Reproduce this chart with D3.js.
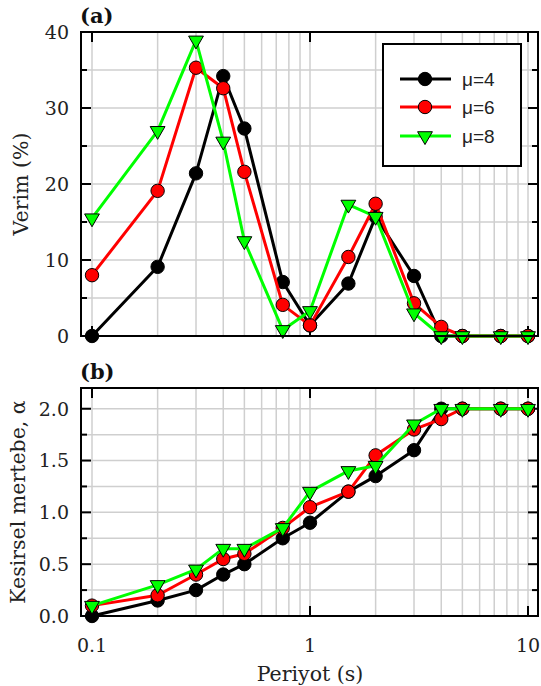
<!DOCTYPE html>
<html><head><meta charset="utf-8">
<script src="https://cdn.jsdelivr.net/npm/d3@7/dist/d3.min.js"></script>
<style>body{margin:0;background:#fff}svg{display:block}</style>
</head><body>
<svg id="c" width="541" height="686"></svg>
<script>
const periods = [0.1, 0.2, 0.3, 0.4, 0.5, 0.75, 1, 1.5, 2, 3, 4, 5, 7.5, 10];
const seriesNames = ["μ=4", "μ=6", "μ=8"];
const verimMu4 = [0, 9.1, 21.4, 34.2, 27.3, 7.1, 1.4, 6.9, 15.7, 7.9, 0, 0, 0, 0];
const verimMu6 = [8.0, 19.1, 35.3, 32.6, 21.6, 4.1, 1.4, 10.4, 17.4, 4.3, 1.2, 0, 0, 0];
const verimMu8 = [15.5, 27.0, 38.9, 25.6, 12.5, 0.8, 3.3, 17.3, 15.7, 3.0, 0, 0, 0, 0];
const alphaMu4 = [0, 0.15, 0.25, 0.4, 0.5, 0.75, 0.9, 1.2, 1.35, 1.6, 2.0, 2.0, 2.0, 2.0];
const alphaMu6 = [0.1, 0.2, 0.4, 0.55, 0.6, 0.85, 1.05, 1.2, 1.55, 1.8, 1.9, 2.0, 2.0, 2.0];
const alphaMu8 = [0.1, 0.3, 0.45, 0.65, 0.65, 0.85, 1.2, 1.4, 1.45, 1.85, 2.0, 2.0, 2.0, 2.0];
const xTickLabels = ["0.1", "1", "10"];
const yTicksA = [0, 10, 20, 30, 40];
const yTicksB = ["0.0", "0.5", "1.0", "1.5", "2.0"];

const colors = ["#000000", "#ff0000", "#00ff00"];
const markers = ["circle", "circle", "tri"];
const serif = "'DejaVu Serif', serif";

const svg = d3.select("#c");
const x = d3.scaleLog().domain([0.1, 10]).range([92, 528]);
const fx0 = 81, fx1 = 538;
const xGrid = d3.range(1, 11).map(d => d / 10).concat(d3.range(2, 11));

function panel(opts) {
  const { y, yMinor, yMajor, yLabels, data, label, title, titleX, frameTop, frameBot } = opts;
  const g = svg.append("g");
  g.selectAll(".vg").data(xGrid).join("line")
    .attr("x1", d => x(d)).attr("x2", d => x(d)).attr("y1", frameTop).attr("y2", frameBot)
    .attr("stroke", "#cfcfcf").attr("stroke-width", 1.5);
  g.selectAll(".hg").data(yMinor).join("line")
    .attr("x1", fx0).attr("x2", fx1).attr("y1", d => y(d)).attr("y2", d => y(d))
    .attr("stroke", "#cfcfcf").attr("stroke-width", 1.5);
  yMinor.forEach(v => {
    const major = yMajor.some(m => Math.abs(m - v) < 1e-9);
    const L = major ? 10 : 6;
    g.append("line").attr("x1", fx0).attr("x2", fx0 + L).attr("y1", y(v)).attr("y2", y(v)).attr("stroke", "#000").attr("stroke-width", 2);
    g.append("line").attr("x1", fx1).attr("x2", fx1 - L).attr("y1", y(v)).attr("y2", y(v)).attr("stroke", "#000").attr("stroke-width", 2);
  });
  [0.1, 1, 10].forEach(v => {
    g.append("line").attr("x1", x(v)).attr("x2", x(v)).attr("y1", frameTop).attr("y2", frameTop + 10).attr("stroke", "#000").attr("stroke-width", 2);
    g.append("line").attr("x1", x(v)).attr("x2", x(v)).attr("y1", frameBot).attr("y2", frameBot - 10).attr("stroke", "#000").attr("stroke-width", 2);
  });
  yMajor.forEach((v, i) => {
    g.append("text").attr("x", 69).attr("y", y(v)).attr("dy", "0.36em").attr("text-anchor", "end")
      .attr("font-family", serif).attr("font-size", 19).attr("fill", "#222").text(yLabels[i]);
  });
  const line = d3.line().x(d => x(d[0])).y(d => y(d[1]));
  data.forEach((vals, si) => {
    const pts = periods.map((p, i) => [p, vals[i]]);
    g.append("path").datum(pts).attr("d", line).attr("fill", "none")
      .attr("stroke", colors[si]).attr("stroke-width", 3).attr("stroke-linejoin", "round");
    if (markers[si] === "circle") {
      g.selectAll(null).data(pts).join("circle").attr("cx", d => x(d[0])).attr("cy", d => y(d[1]))
        .attr("r", 6.7).attr("fill", colors[si]).attr("stroke", "#000").attr("stroke-width", 1);
    } else {
      const tri = d3.symbol().type(d3.symbolTriangle).size(95);
      g.selectAll(null).data(pts).join("path")
        .attr("d", tri).attr("transform", d => `translate(${x(d[0])},${y(d[1])}) rotate(180)`)
        .attr("fill", colors[si]).attr("stroke", "#000").attr("stroke-width", 1);
    }
  });
  g.append("rect").attr("x", fx0).attr("y", frameTop).attr("width", fx1 - fx0).attr("height", frameBot - frameTop)
    .attr("fill", "none").attr("stroke", "#000").attr("stroke-width", 2);
  g.append("text").attr("x", 80).attr("y", frameTop - 9).attr("font-family", serif).attr("font-weight", "bold")
    .attr("font-size", 21).attr("fill", "#111").text(label);
  const cy = (frameTop + frameBot) / 2;
  g.append("text").attr("transform", `translate(${titleX},${cy}) rotate(-90)`).attr("text-anchor", "middle")
    .attr("font-family", serif).attr("font-size", 20.5).attr("fill", "#222").text(title);
  return g;
}

const yA = d3.scaleLinear().domain([0, 40]).range([336, 32]);
panel({ y: yA, yMinor: d3.range(0, 41, 5), yMajor: yTicksA, yLabels: yTicksA.map(String),
  data: [verimMu4, verimMu6, verimMu8], label: "(a)", title: "Verim (%)", titleX: 28, frameTop: 32, frameBot: 336 });

const yB = d3.scaleLinear().domain([0, 2.2]).range([616, 388]);
panel({ y: yB, yMinor: d3.range(0, 9).map(d => d * 0.25), yMajor: yTicksB.map(Number), yLabels: yTicksB,
  data: [alphaMu4, alphaMu6, alphaMu8], label: "(b)", title: "Kesirsel mertebe, α", titleX: 25, frameTop: 388, frameBot: 616 });

xTickLabels.forEach(t => {
  svg.append("text").attr("x", x(+t)).attr("y", 652).attr("text-anchor", "middle")
    .attr("font-family", serif).attr("font-size", 19).attr("fill", "#222").text(t);
});
svg.append("text").attr("x", 310).attr("y", 681).attr("text-anchor", "middle")
  .attr("font-family", serif).attr("font-size", 20.5).attr("fill", "#222").text("Periyot (s)");

const lg = svg.append("g");
lg.append("rect").attr("x", 383).attr("y", 44).attr("width", 138).attr("height", 122)
  .attr("fill", "#fff").attr("stroke", "#000").attr("stroke-width", 2);
const rowY = [79, 107, 136];
seriesNames.forEach((n, i) => {
  lg.append("line").attr("x1", 400).attr("x2", 451).attr("y1", rowY[i]).attr("y2", rowY[i])
    .attr("stroke", colors[i]).attr("stroke-width", 3);
  if (markers[i] === "circle") {
    lg.append("circle").attr("cx", 425).attr("cy", rowY[i]).attr("r", 6.7).attr("fill", colors[i]).attr("stroke", "#000");
  } else {
    lg.append("path").attr("d", d3.symbol().type(d3.symbolTriangle).size(95))
      .attr("transform", `translate(425,${rowY[i]}) rotate(180)`).attr("fill", colors[i]).attr("stroke", "#000");
  }
  lg.append("text").attr("x", 462).attr("y", rowY[i]).attr("dy", "0.35em")
    .attr("font-family", "'Liberation Sans', sans-serif").attr("font-size", 19).attr("fill", "#222").text(n);
});
</script>
</body></html>
